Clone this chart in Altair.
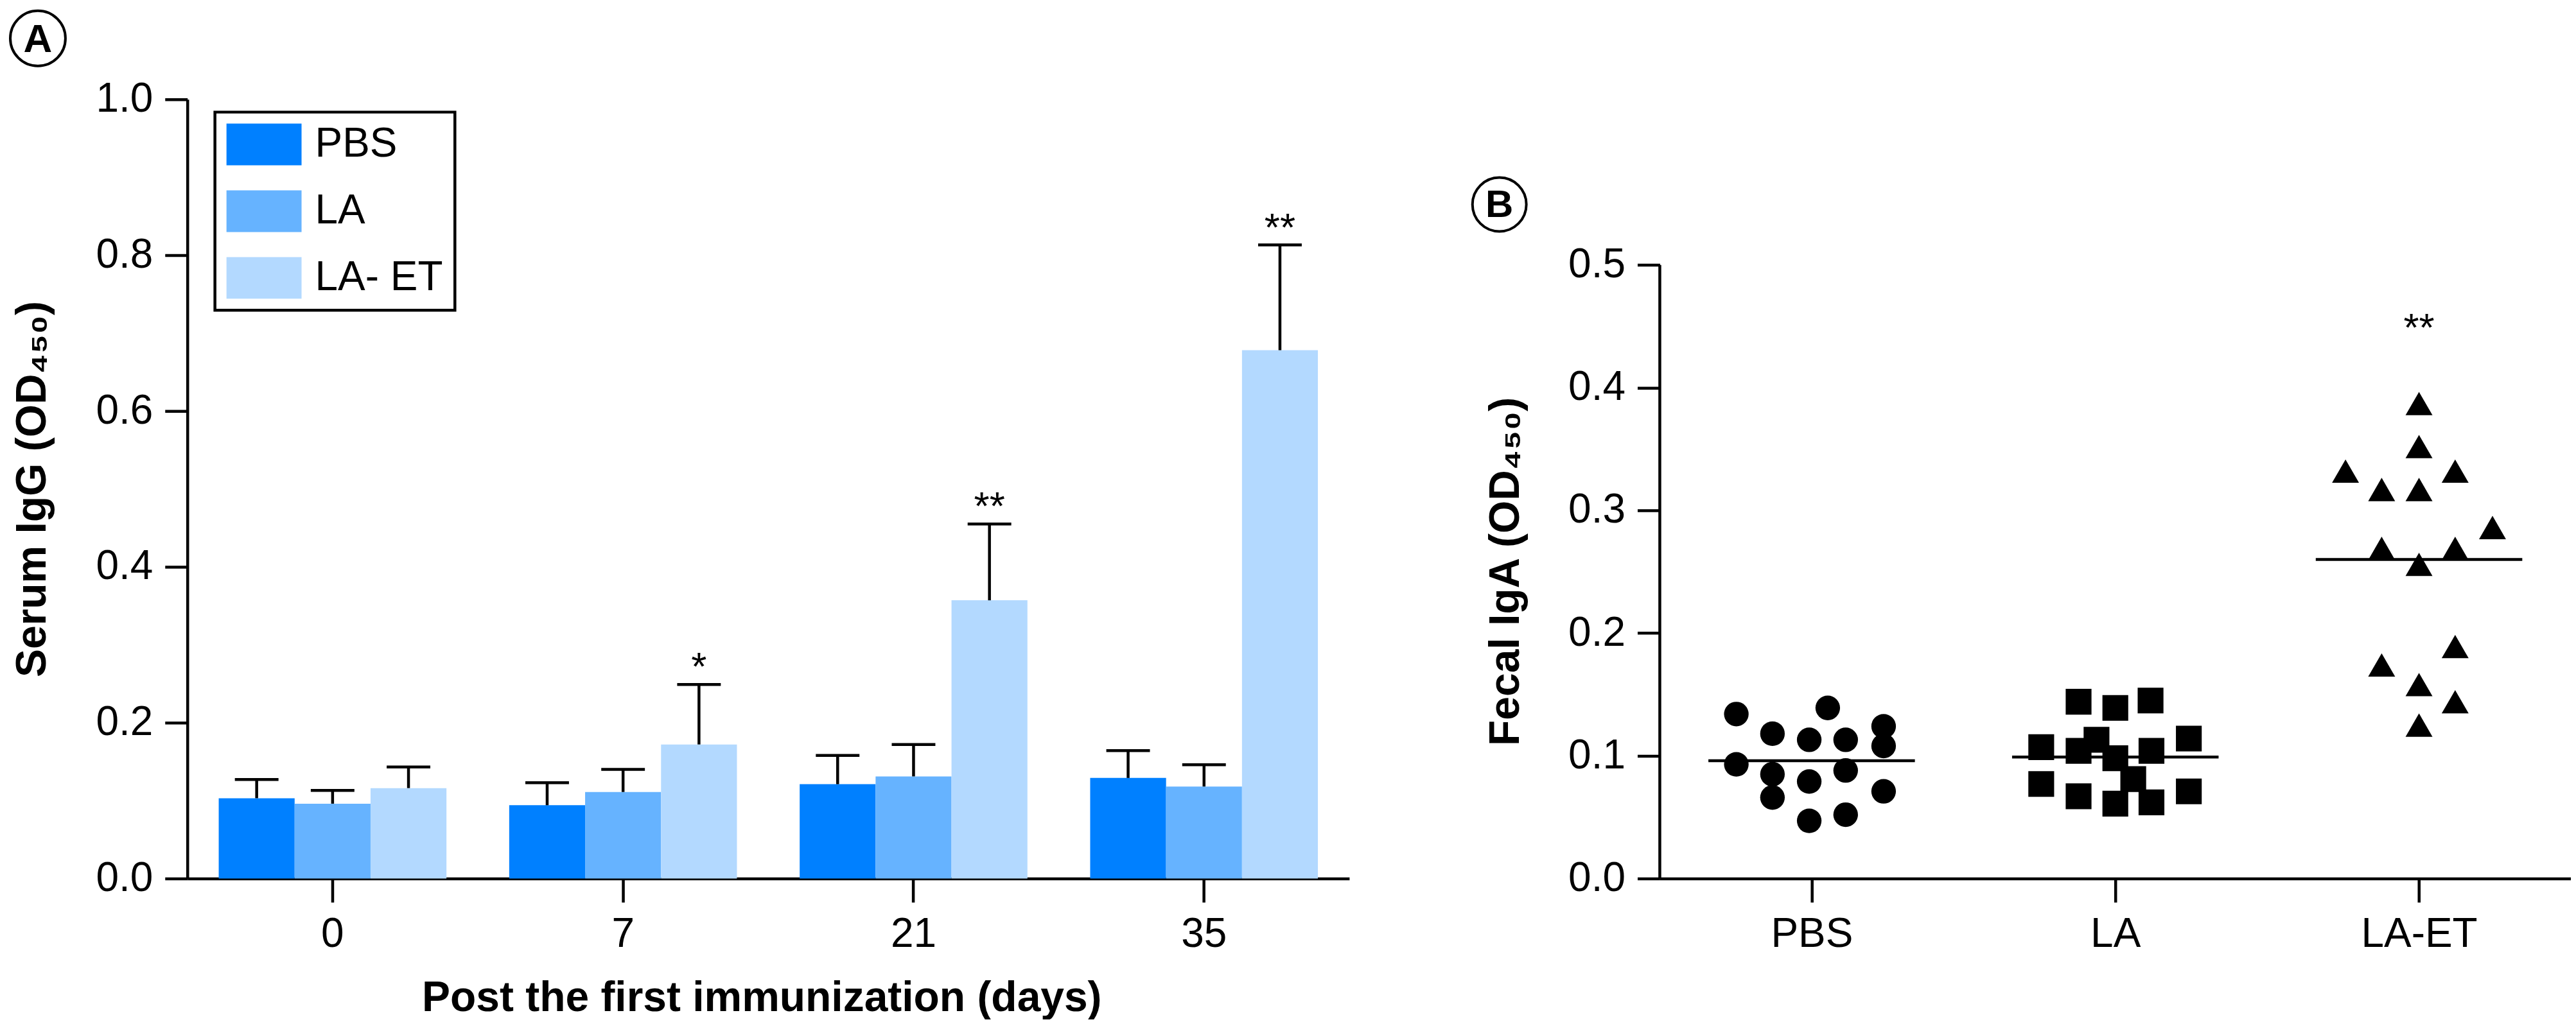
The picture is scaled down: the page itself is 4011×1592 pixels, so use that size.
import json
import altair as alt
import pandas as pd

FONT = "Liberation Sans"

# ---------------- Panel A data (serum IgG, mean and upper error) ----------------
days = ["0", "7", "21", "35"]
groups_a = ["PBS", "LA", "LA- ET"]
colors_a = ["#0080FF", "#66B3FF", "#B3D9FF"]
mean_pbs = [0.103, 0.094, 0.121, 0.129]
mean_la = [0.096, 0.111, 0.131, 0.118]
mean_laet = [0.116, 0.172, 0.357, 0.678]
upper_pbs = [0.127, 0.123, 0.158, 0.164]
upper_la = [0.113, 0.140, 0.172, 0.146]
upper_laet = [0.143, 0.249, 0.455, 0.813]
sig_pbs = ["", "", "", ""]
sig_la = ["", "", "", ""]
sig_laet = ["", "*", "**", "**"]
y_ticks_a = [0.0, 0.2, 0.4, 0.6, 0.8, 1.0]

# ---------------- Panel B data (fecal IgA, individual animals) ----------------
groups_b = ["PBS", "LA", "LA-ET"]
shapes_b = ["circle", "square", "triangle-up"]
pbs_dx = [-0.248, 0.053, -0.129, -0.008, 0.112, 0.237, 0.237, -0.248, -0.129, 0.112, -0.008, 0.237, -0.129, -0.008, 0.112]
pbs_val = [0.134, 0.139, 0.118, 0.113, 0.113, 0.124, 0.108, 0.093, 0.085, 0.088, 0.079, 0.071, 0.066, 0.047, 0.052]
la_dx = [-0.121, 0.0, 0.116, -0.244, -0.121, -0.062, 0.0, 0.119, 0.242, 0.059, -0.244, -0.121, 0.0, 0.119, 0.242]
la_val = [0.144, 0.139, 0.145, 0.107, 0.104, 0.113, 0.098, 0.104, 0.114, 0.081, 0.077, 0.067, 0.061, 0.062, 0.071]
laet_dx = [0.0, 0.0, -0.242, 0.119, -0.123, 0.0, 0.242, -0.123, 0.119, 0.0, 0.119, -0.123, 0.0, 0.119, 0.0]
laet_val = [0.387, 0.352, 0.332, 0.332, 0.317, 0.317, 0.286, 0.269, 0.269, 0.256, 0.189, 0.174, 0.158, 0.144, 0.125]
line_b = [0.096, 0.099, 0.260]
sig_b = ["", "", "**"]
y_ticks_b = [0.0, 0.1, 0.2, 0.3, 0.4, 0.5]

# ---------------- tables ----------------
rows_a = []
for g, means, ups, sigs in zip(groups_a, [mean_pbs, mean_la, mean_laet],
                               [upper_pbs, upper_la, upper_laet], [sig_pbs, sig_la, sig_laet]):
    for d, m, u, s in zip(days, means, ups, sigs):
        rows_a.append({"Day": d, "Group": g, "value": m, "upper": u, "sig": s})
df_a = pd.DataFrame(rows_a)

rows_b = []
for i, (g, dxs, vals) in enumerate(zip(groups_b, [pbs_dx, la_dx, laet_dx], [pbs_val, la_val, laet_val])):
    for dx, v in zip(dxs, vals):
        rows_b.append({"Group": g, "pos": i + 0.5 + dx, "value": v})
df_b = pd.DataFrame(rows_b)

HALF = 0.34
df_line = pd.DataFrame({
    "Group": groups_b,
    "x1": [i + 0.5 - HALF for i in range(len(groups_b))],
    "x2": [i + 0.5 + HALF for i in range(len(groups_b))],
    "mean": line_b,
})
df_sig_b = pd.DataFrame({
    "pos": [i + 0.5 for i in range(len(groups_b))],
    "top": [max(v) for v in [pbs_val, la_val, laet_val]],
    "sig": sig_b,
})
df_axis_b = pd.DataFrame({"x0": [0.0], "lo": [y_ticks_b[0]], "hi": [y_ticks_b[-1]]})

# ---------------- Panel A ----------------
W_A, H = 1811, 1215
x_a = alt.X("Day:N", sort=days,
            scale=alt.Scale(paddingInner=0.216, paddingOuter=0.108),
            axis=alt.Axis(title="Post the first immunization (days)", labelAngle=0,
                          titleX=895, titleY=206, titleBaseline="alphabetic", titleAlign="center"))
off_a = alt.XOffset("Group:N", sort=groups_a, scale=alt.Scale(paddingInner=0, paddingOuter=0))
y_a = alt.Y("value:Q", scale=alt.Scale(domain=[0, 1], nice=False),
            axis=alt.Axis(values=y_ticks_a, format=".1f", title="Serum IgG (OD₄₅₀)",
                          titleX=-221, titleY=H / 2, titleAngle=270,
                          titleBaseline="alphabetic", titleAlign="center"))

# swatch: 117 x 65 px rectangle; drawn to the right of the nominal 65 px symbol box
legend_a = alt.Legend(title=None, orient="none", legendX=43, legendY=20,
                      symbolType="M-1,-1L2.6,-1L2.6,1L-1,1Z",
                      symbolSize=4225, symbolStrokeWidth=0, symbolOpacity=1,
                      labelFontSize=64, labelFont=FONT, labelColor="black", labelLimit=0,
                      rowPadding=39, labelOffset=73, padding=18, strokeColor="black")

base_a = alt.Chart(df_a)
bars = base_a.mark_bar(opacity=1).encode(
    x=x_a, xOffset=off_a, y=y_a,
    color=alt.Color("Group:N", sort=groups_a,
                    scale=alt.Scale(domain=groups_a, range=colors_a), legend=legend_a))
stems = base_a.mark_rule(color="black", strokeWidth=4.5).encode(
    x=alt.X("Day:N", sort=days), xOffset=off_a, y="value:Q", y2="upper:Q")
caps = base_a.mark_tick(color="black", size=68, thickness=4.5, orient="horizontal", opacity=1).encode(
    x=alt.X("Day:N", sort=days), xOffset=off_a, y="upper:Q")
stars_a = base_a.mark_text(fontSize=62, baseline="alphabetic", align="center", color="black",
                           dy=-7).encode(
    x=alt.X("Day:N", sort=days), xOffset=off_a, y="upper:Q", text="sig:N")

lab_a = pd.DataFrame({"t": ["A"]})
circ_a = alt.Chart(lab_a).mark_point(shape="circle", size=86 * 86, filled=False, color="black",
                                     strokeWidth=4, opacity=1).encode(
    x=alt.value(-233), y=alt.value(-95))
txt_a = alt.Chart(lab_a).mark_text(fontSize=62, fontWeight="bold", align="center",
                                   baseline="middle", color="black").encode(
    x=alt.value(-233), y=alt.value(-93), text="t:N")

chart_a = alt.layer(bars, stems, caps, stars_a, circ_a, txt_a).properties(width=W_A, height=H)

# ---------------- Panel B ----------------
W_B = 1420
YMAX_B = 0.635
x_b = alt.X("pos:Q", scale=alt.Scale(domain=[0, len(groups_b)], nice=False, zero=False),
            axis=alt.Axis(values=[i + 0.5 for i in range(len(groups_b))],
                          labelExpr=f"{json.dumps(groups_b)}[floor(datum.value)]",
                          labelFlush=False, title=None))
y_b = alt.Y("value:Q", scale=alt.Scale(domain=[0, YMAX_B], nice=False),
            axis=alt.Axis(values=y_ticks_b, format=".1f", domain=False,
                          title="Fecal IgA (OD₄₅₀)", titleX=-220, titleY=736, titleAngle=270,
                          titleBaseline="alphabetic", titleAlign="center"))

pts = alt.Chart(df_b).mark_point(filled=True, opacity=1, color="black").encode(
    x=x_b, y=y_b,
    shape=alt.Shape("Group:N", scale=alt.Scale(domain=groups_b, range=shapes_b), legend=None),
    size=alt.Size("Group:O", scale=alt.Scale(domain=groups_b, range=[1470, 1764, 2100]), legend=None))
lines = alt.Chart(df_line).mark_rule(color="black", strokeWidth=4.5).encode(
    x="x1:Q", x2="x2:Q", y="mean:Q")
axis_line = alt.Chart(df_axis_b).mark_rule(color="black", strokeWidth=4.5).encode(
    x="x0:Q", y="lo:Q", y2="hi:Q")
stars_b = alt.Chart(df_sig_b).mark_text(fontSize=62, baseline="alphabetic", align="center",
                                        color="black", dy=-98).encode(
    x="pos:Q", y="top:Q", text="sig:N")

lab_b = pd.DataFrame({"t": ["B"]})
circ_b = alt.Chart(lab_b).mark_point(shape="circle", size=84 * 84, filled=False, color="black",
                                     strokeWidth=4, opacity=1).encode(
    x=alt.value(-250), y=alt.value(164))
txt_b = alt.Chart(lab_b).mark_text(fontSize=60, fontWeight="bold", align="center",
                                   baseline="middle", color="black").encode(
    x=alt.value(-250), y=alt.value(166), text="t:N")

chart_b = alt.layer(axis_line, lines, pts, stars_b, circ_b, txt_b).properties(width=W_B, height=H)

# ---------------- combine ----------------
chart = (
    alt.hconcat(chart_a, chart_b, spacing=484, bounds="flush")
    .resolve_scale(x="independent", y="independent")
    .properties(padding=0)
    .configure(font=FONT)
    .configure_view(strokeWidth=0)
    .configure_axis(domainColor="black", domainWidth=4.5, tickColor="black", tickWidth=4.5,
                    tickSize=35, labelFontSize=64, labelColor="black", labelFont=FONT,
                    labelPadding=19, labelLimit=0, titleFont=FONT, titleFontSize=66,
                    titleFontWeight="bold", titleColor="black", grid=False)
    .configure_axisX(tickSize=37, labelPadding=18)
    .configure_legend(strokeWidth=4.5)
)

chart.save("out.html", embed_options={"renderer": "svg", "actions": False})
